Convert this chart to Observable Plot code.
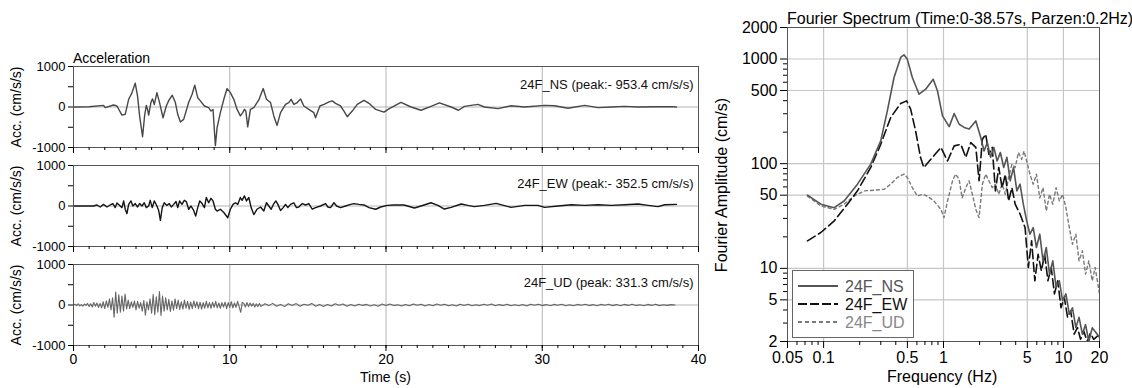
<!DOCTYPE html>
<html><head><meta charset="utf-8">
<script src="https://cdn.jsdelivr.net/npm/d3@7"></script>
<script src="https://cdn.jsdelivr.net/npm/@observablehq/plot@0.6"></script>
<style>
body{margin:0;background:#fff;}
#wrap{position:relative;width:1132px;height:388px;overflow:hidden;font-family:"Liberation Sans",Arial,sans-serif;background:#fff;color:#000;}
.abs{position:absolute;line-height:1;white-space:nowrap;}
.rot{transform:translate(-50%,-50%) rotate(-90deg);}
svg.plotsvg{position:absolute;}
</style></head><body><div id="wrap"></div>
<script>
// ---------- Acceleration time histories (time s, acc cm/s/s) ----------
const nsTime = [0,1.0,1.92,2.03,2.56,2.78,3.10,3.31,3.53,3.74,3.95,4.10,4.23,4.42,4.55,4.66,4.74,4.81,4.96,5.06,5.17,5.34,5.51,5.73,5.94,6.11,6.32,6.52,6.67,6.84,7.05,7.37,7.59,7.76,7.95,8.12,8.38,8.65,8.80,8.93,9.08,9.19,9.40,9.62,9.83,10.04,10.26,10.47,10.68,10.83,10.94,11.03,11.15,11.32,11.54,11.86,12.14,12.35,12.61,12.82,13.03,13.25,13.57,13.78,13.93,14.10,14.32,14.53,14.74,15.06,15.38,15.49,15.77,16.03,16.35,16.56,16.77,17.09,17.31,17.52,17.84,18.16,18.59,18.91,19.34,19.87,20.21,20.96,21.60,22.24,22.88,23.42,24.17,24.64,25.02,25.88,26.30,27.16,28.01,28.87,30.15,30.79,31.65,32.71,33.57,34.42,35.28,36.13,37.20,38.27,38.59];
const nsAcc = [0,5,40,-15,50,25,-200,-180,190,350,590,270,-220,-735,-220,40,-60,-200,120,200,60,355,100,-265,25,170,290,110,-180,-370,-305,110,315,540,230,150,25,-15,-100,-60,-953,-510,-140,190,455,355,190,-60,-220,-140,-60,-100,-490,-60,-15,175,455,190,110,-220,-455,-140,65,110,190,65,110,200,25,-60,-140,-265,25,65,125,150,90,25,-100,-240,-100,65,165,90,-60,-125,-40,115,0,-80,15,100,0,-80,15,65,0,-40,30,0,40,30,-30,40,-15,0,15,0,5,10,0];

const ewTime = [0,1.28,1.50,1.71,1.92,2.14,2.35,2.52,2.67,2.78,2.99,3.10,3.21,3.31,3.42,3.53,3.68,3.80,3.95,4.10,4.23,4.38,4.53,4.66,4.81,4.91,5.04,5.17,5.34,5.45,5.56,5.68,5.81,5.98,6.13,6.26,6.41,6.56,6.67,6.79,6.94,7.09,7.22,7.37,7.52,7.69,7.82,7.95,8.08,8.23,8.38,8.50,8.65,8.80,8.93,9.08,9.19,9.40,9.62,9.87,10.04,10.21,10.36,10.51,10.68,10.79,10.94,11.07,11.22,11.37,11.54,11.75,11.97,12.18,12.35,12.50,12.65,12.82,12.95,13.08,13.25,13.42,13.57,13.72,13.89,14.10,14.27,14.42,14.64,14.85,15.06,15.28,15.49,15.81,16.13,16.28,16.45,16.67,16.84,17.09,17.41,17.74,17.95,18.27,18.59,18.91,19.34,19.66,20.09,20.51,21.15,21.82,22.24,22.88,23.32,23.74,24.17,24.81,25.24,25.66,26.30,27.05,27.58,28.01,28.87,29.72,30.15,31.00,31.86,32.71,33.57,34.42,35.28,36.13,36.77,37.41,37.84,38.59];
const ewAcc = [0,0,25,-25,40,-25,25,60,-40,75,0,-40,125,-80,-190,40,125,0,60,-25,60,0,80,-40,0,140,-40,125,0,-110,-353,-40,80,15,60,-25,40,110,-40,125,40,140,110,-80,0,-110,-250,-40,125,60,-40,210,80,190,125,-80,-125,-80,-160,-290,-80,40,80,40,210,140,250,125,210,-40,-210,-80,-25,-125,80,0,-80,60,125,40,-110,-40,40,-40,40,80,-40,-25,60,25,60,-80,-40,0,60,-25,-40,80,0,-40,0,40,60,40,25,-40,-80,-25,15,25,25,-50,0,80,15,-75,-35,50,15,-15,15,65,10,-35,15,15,-35,0,30,15,30,15,30,50,15,-15,30,40];

// UD: strong part sampled every 0.1 s from 0 s, weak part every 0.25 s from 12 s
const udStart1 = 0, udStep1 = 0.1;
const udAcc1 = [0,20,-15,30,-20,10,-30,25,-10,40,
 -40,30,-50,60,-30,50,-60,40,-70,80,
 -90,100,-60,150,-120,180,-300,320,-200,250,
 -180,220,-150,270,-100,120,-90,80,-60,100,
 -120,90,-80,60,-150,110,-250,80,-120,150,
 -200,260,-240,200,-180,331,-260,220,-150,180,
 -120,140,-160,100,-130,150,-90,120,-110,80,
 -100,120,-80,90,-110,70,-90,100,-60,80,
 -90,70,-100,60,-80,90,-70,60,-80,70,
 -60,90,-70,50,-80,60,-50,70,-90,60,
 -60,80,-70,50,-60,90,-40,-180,60,40,
 -50,60,-40,50,-30,40,-50,30,-40,35];
const udStart2 = 12, udStep2 = 0.25;
const udAcc2 = [-35,30,-15,40,-30,10,-40,30,
 -10,35,-30,20,-5,40,-30,15,
 -35,10,-25,30,-5,25,-30,10,
 -25,20,-10,15,-25,5,-30,25,
 -10,25,-15,5,-25,15,-20,25,
 -5,20,-25,10,-20,25,-5,20,
 -20,5,-25,20,-10,20,-20,5,
 -15,20,-5,25,-20,10,-15,20,
 -20,5,-20,15,-25,20,-5,20,
 -15,10,-20,15,-5,20,-20,5,
 -20,15,-5,20,-15,10,-20,15,
 -5,20,-15,10,-20,15,-10,20,
 -15,5,-20,15,-10,20,-15,5,
 -10,10,0];

const panelLabels = ["24F_NS (peak:- 953.4 cm/s/s)", "24F_EW (peak:- 352.5 cm/s/s)", "24F_UD (peak: 331.3 cm/s/s)"];
const accTicks = [-1000, 0, 1000];
const accMinor = [-500, 500];
const timeTicks = [0, 10, 20, 30, 40];

// ---------- Fourier spectra (Hz, cm/s) ----------
const nsF = [0.0734,0.0949,0.1226,0.1483,0.1917,0.2473,0.2995,0.3402,0.3867,0.4393,0.4682,0.4991,0.5497,0.6253,0.711,0.82,0.891,0.981,1.116,1.228,1.351,1.487,1.636,1.86,2.045,2.178,2.32,2.47,2.63,2.8,2.98,3.18,3.38,3.6,3.84,4.09,4.35,4.63,4.94,5.26,5.6,5.96,6.35,6.76,7.2,7.66,8.16,8.69,9.25,9.85,10.49,11.2,11.9,12.7,13.5,14.4,15.3,16.3,17.4,20];
const nsA = [50,41,38,44,63.7,98.9,165,320,666,1034,1096,997,666,461,515,641,497,286,226,301,238,222,214,256,178,132,159,115,143,106,128,92,115,68.6,92,55,63.7,41,28.4,21.2,24.5,15.8,21.2,11.8,15.8,8.8,11.8,6.56,7.6,4.9,5.7,3.65,4.2,2.72,3.4,2.35,2.9,2.0,2.7,2.2];
const ewF = [0.0734,0.0949,0.1226,0.158,0.1917,0.2473,0.2995,0.3626,0.4393,0.4929,0.532,0.585,0.643,0.685,0.784,0.951,1.08,1.228,1.395,1.535,1.69,1.86,1.98,2.11,2.25,2.39,2.55,2.71,2.89,3.08,3.28,3.49,3.72,3.96,4.35,4.79,5.1,5.43,5.78,6.15,6.55,6.98,7.43,7.91,8.42,8.97,9.55,10.17,10.83,11.5,12.3,13.1,13.9,14.8,15.8,16.8,17.9,20];
const ewA = [18.3,22,28.4,41,55,92,153,276,376,398,332,206,115,92,110,143,106,148,153,115,159,143,68.6,171,191,123,143,55,92,59,79,44,59,41,33,24.5,10.2,18.3,7.6,13.6,9.5,13.6,7.6,10.2,5.7,7.6,4.2,5.3,3.4,3.9,2.35,2.72,2.1,2.5,2.0,2.4,2.1,2.35];
const udF = [0.0734,0.0949,0.1226,0.1483,0.18,0.218,0.264,0.32,0.3626,0.412,0.468,0.499,0.5497,0.606,0.666,0.732,0.832,0.951,1.01,1.08,1.19,1.26,1.35,1.43,1.535,1.636,1.74,1.86,1.98,2.11,2.25,2.39,2.55,2.71,2.89,3.08,3.28,3.49,3.72,3.96,4.22,4.49,4.69,4.94,5.26,5.6,5.96,6.35,6.76,7.2,7.66,8.16,8.69,9.25,9.85,10.49,11.2,11.9,12.7,13.5,14.4,15.3,16.3,17.4,18.4,20];
const udA = [49,39.5,36.6,41,49,55,55.8,57,63.7,73.8,79.5,73.8,59,49,51,49,44,36.6,30.5,44,68.6,79.5,71,47,59,68.6,51,36.6,30.5,63.7,79.5,68.6,59,63.7,51,63.7,51,73.8,98.9,92,128,110,132,106,79.5,63.7,79.5,47,59,35.3,51,41,59,44,51,38,24.5,17,21.2,11.8,14.7,8.8,11.8,7.6,10.2,5.7];

const specSeries = ["24F_NS", "24F_EW", "24F_UD"];
const freqTicks = [0.05, 0.1, 0.5, 1, 5, 10, 20];
const ampTicks = [2, 5, 10, 50, 100, 500, 1000, 2000];
const freqGrid = [0.1, 0.5, 1, 5, 10];
const ampGrid = [5, 10, 50, 100, 500, 1000];

// ---------- build ----------
const wrap = document.getElementById("wrap");
const FONT = '"Liberation Sans", Arial, sans-serif';
function place(el, left, top) {
  el.classList.add("plotsvg");
  el.style.left = left + "px"; el.style.top = top + "px";
  wrap.appendChild(el);
}
function addText(txt, left, top, size, extra) {
  const d = document.createElement("div");
  d.className = "abs" + (extra ? " " + extra : "");
  d.textContent = txt;
  d.style.left = left + "px"; d.style.top = top + "px"; d.style.fontSize = size + "px";
  wrap.appendChild(d);
  return d;
}

const zip = (T, V) => T.map((t, i) => ({t, v: V[i]}));
const udData = udAcc1.map((v, i) => ({t: udStart1 + i * udStep1, v}))
  .concat(udAcc2.map((v, i) => ({t: udStart2 + i * udStep2, v})));
const accData = [zip(nsTime, nsAcc), zip(ewTime, ewAcc), udData];
const accStroke = ["#474747", "#151515", "#666666"];
const accWidth = [1.4, 1.4, 1.1];
const panelTop = [66, 165, 264];

for (let k = 0; k < 3; k++) {
  const last = k === 2;
  const mt = 20, mb = last ? 44 : 19, inner = 81;
  const p = Plot.plot({
    width: 720, height: inner + mt + mb,
    marginLeft: 73, marginRight: 22, marginTop: mt, marginBottom: mb,
    style: {fontFamily: FONT, fontSize: "13px", background: "transparent", overflow: "visible"},
    x: {domain: [0, 40]},
    y: {domain: [-1000, 1000]},
    marks: [
      Plot.ruleX(timeTicks.slice(1, 4), {stroke: "#b4b4b4", strokeWidth: 1}),
      Plot.ruleY([0], {stroke: "#b4b4b4", strokeWidth: 1}),
      Plot.line(accData[k], {x: "t", y: "v", stroke: accStroke[k], strokeWidth: accWidth[k], clip: true}),
      Plot.frame({stroke: "#555"}),
      Plot.axisY({ticks: accTicks, tickSize: 5, tickPadding: 3, fontSize: 13, text: d => String(d), label: null}),
      Plot.axisY({ticks: accMinor, tickSize: 5, tickFormat: () => "", label: null}),
      Plot.axisX({ticks: d3.range(0, 41), tickSize: 3, tickFormat: () => "", label: null}),
      Plot.axisX({ticks: timeTicks, tickSize: 6, tickPadding: 3, fontSize: 14, text: last ? (d => String(d)) : (() => ""), label: null}),
      Plot.text([panelLabels[k]], {frameAnchor: "top-right", dx: -5, dy: 13, fontSize: 13, fill: "#111", text: d => d})
    ]
  });
  place(p, 0, panelTop[k] - mt);
  addText("Acc. (cm/s/s)", 16, panelTop[k] + inner / 2, 14, "rot");
}
addText("Acceleration", 73, 51, 14);
addText("Time (s)", 360, 370, 14);

// spectrum
const specData = [
  {name: specSeries[0], rows: zip(nsF, nsA), stroke: "#555", w: 1.6, dash: null},
  {name: specSeries[1], rows: zip(ewF, ewA), stroke: "#111", w: 1.6, dash: "9,4"},
  {name: specSeries[2], rows: zip(udF, udA), stroke: "#7a7a7a", w: 1.4, dash: "3,3"}
];
const minor = (lo, hi, majors) => {
  const out = [];
  for (let e = -3; e <= 4; e++) for (let m = 1; m <= 9; m++) {
    const v = +(m * Math.pow(10, e)).toPrecision(3);
    if (v >= lo && v <= hi && !majors.includes(v)) out.push(v);
  }
  return out;
};
const sp = Plot.plot({
  width: 432, height: 388,
  marginLeft: 87, marginRight: 33, marginTop: 27, marginBottom: 47,
  style: {fontFamily: FONT, fontSize: "16px", background: "transparent", overflow: "visible"},
  x: {type: "log", domain: [0.05, 20]},
  y: {type: "log", domain: [2, 2000]},
  marks: [
    Plot.ruleX(freqGrid, {stroke: "#c6c6c6", strokeWidth: 1.2}),
    Plot.ruleY(ampGrid, {stroke: "#c6c6c6", strokeWidth: 1.2}),
    ...specData.slice().reverse().map(s => Plot.line(s.rows, {x: "t", y: "v", stroke: s.stroke, strokeWidth: s.w, strokeDasharray: s.dash, clip: true})),
    Plot.frame({stroke: "#555"}),
    Plot.axisY({ticks: ampTicks, tickSize: 7, tickPadding: 3, fontSize: 16, text: d => String(d), label: null}),
    Plot.axisY({ticks: minor(2, 2000, ampTicks), tickSize: 4, tickFormat: () => "", label: null}),
    Plot.axisX({ticks: freqTicks, tickSize: 7, tickPadding: 3, fontSize: 16, text: d => String(d), label: null}),
    Plot.axisX({ticks: minor(0.05, 20, freqTicks), tickSize: 4, tickFormat: () => "", label: null})
  ]
});
place(sp, 700, 0);
addText("Fourier Spectrum (Time:0-38.57s, Parzen:0.2Hz)", 787, 11, 16);
addText("Fourier Amplitude (cm/s)", 722, 185, 16, "rot");
addText("Frequency (Hz)", 887, 369, 16);

// legend
const leg = document.createElement("div");
leg.style.cssText = "position:absolute;left:792px;top:270px;width:120px;height:66px;border:1px solid #666;background:#fff;";
const ns = "http://www.w3.org/2000/svg";
const lsvg = document.createElementNS(ns, "svg");
lsvg.setAttribute("width", 120); lsvg.setAttribute("height", 66);
const legColors = ["#555", "#111", "#888"];
specData.forEach((s, i) => {
  const y = 15 + i * 18;
  const ln = document.createElementNS(ns, "line");
  ln.setAttribute("x1", 5); ln.setAttribute("x2", 45); ln.setAttribute("y1", y); ln.setAttribute("y2", y);
  ln.setAttribute("stroke", s.stroke); ln.setAttribute("stroke-width", 2);
  if (s.dash) ln.setAttribute("stroke-dasharray", i === 1 ? "9,3" : "4,3");
  lsvg.appendChild(ln);
  const tx = document.createElementNS(ns, "text");
  tx.setAttribute("x", 52); tx.setAttribute("y", y + 5.5);
  tx.setAttribute("font-size", 16); tx.setAttribute("font-family", FONT); tx.setAttribute("fill", legColors[i]);
  tx.textContent = s.name;
  lsvg.appendChild(tx);
});
leg.appendChild(lsvg);
wrap.appendChild(leg);
</script></body></html>
